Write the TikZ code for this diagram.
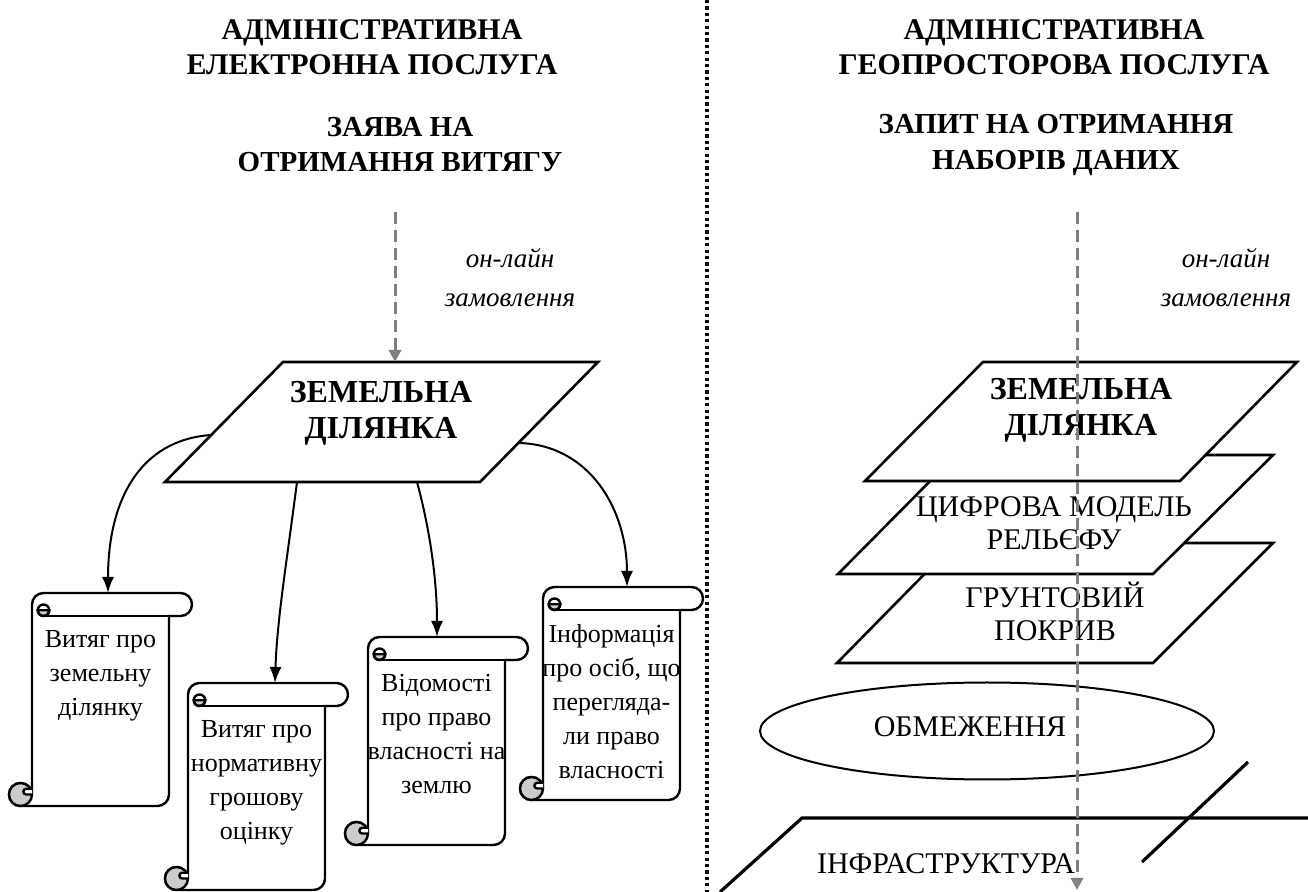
\documentclass[tikz,border=0pt]{standalone}
\usepackage{fontspec}
\setmainfont{Liberation Serif}[BoldFont={Liberation Serif Bold}, ItalicFont={Liberation Serif Italic}]
\usetikzlibrary{arrows.meta, shapes.geometric}

\definecolor{ordergray}{gray}{0.5}
\definecolor{curlgray}{gray}{0.8}

% vertical scroll: name, left x of body, top y, bottom y, entry x, text
\newcommand{\docscroll}[6]{%
  \draw[scrollline, fill=white] (#2,#4-11.5) -- (#2,#3+11.5) arc[start angle=180, end angle=270, radius=11.5]
    -- (#2+148.5,#3) arc[start angle=270, end angle=450, radius=11.5] -- (#2+137,#3+23)
    -- (#2+137,#4-11.5) arc[start angle=0, end angle=90, radius=11.5]
    -- (#2-11.5,#4) arc[start angle=90, end angle=360, radius=11.5] -- cycle;
  \draw[scrollline] (#2+137,#3+23) -- (#2+11.5,#3+23);
  \draw[scrollline, fill=curlgray] (#2+17.25,#3+17.25) arc[start angle=0, end angle=180, radius=5.75] -- cycle;
  \draw[scrollline] (#2+11.5,#3+17.25) circle (5.75);
  \draw[scrollline, fill=curlgray] (#2-11.5,#4-11.5) circle (11.5);
  \draw[scrollline, fill=white] (#2,#4-17.25) -- (#2-5.75,#4-17.25) arc[start angle=270, end angle=90, radius=2.875] -- (#2,#4-11.5);
  \coordinate (#1-top) at (#5,#3);
  \node[scrolltext] (#1) at (#2+68.5,#3+37) {#6};
}

\begin{document}
\begin{tikzpicture}[x=0.5pt, y=-0.5pt,
          headtext/.style={align=center, font=\fontsize{15}{17.5}\selectfont\bfseries},
          reqtext/.style={align=center, font=\fontsize{14.5}{17.5}\selectfont\bfseries},
          ordertext/.style={align=center, font=\fontsize{13.5}{19.5}\selectfont\itshape},
          plotline/.style={draw=black, line width=1.3pt, fill=white},
          plottext/.style={align=center, font=\fontsize{16}{18}\selectfont\bfseries},
          layertext/.style={align=center, font=\fontsize{15}{16.5}\selectfont},
          scrollline/.style={draw=black, line width=1.2pt},
          scrolltext/.style={align=center, anchor=north, inner sep=0pt, font=\fontsize{13}{17}\selectfont},
          docarrow/.style={-{Latex[length=8pt, width=6pt]}, line width=1pt},
          orderarrow/.style={-{Triangle[length=6pt, width=6pt]}, draw=ordergray, fill=ordergray, line width=1.5pt, dash pattern=on 6pt off 3pt}
        ]
        \useasboundingbox (0,0) rectangle (1308,892);

        % ----------------------------------------------------
        % DIVIDER
        % ----------------------------------------------------
        \draw[line width=1.6pt, dash pattern=on 1.6pt off 1.6pt] (707,0) -- (707,892);

        % ----------------------------------------------------
        % LEFT: ELECTRONIC SERVICE
        % ----------------------------------------------------
        \node[headtext] (lhead) at (372,47) {АДМІНІСТРАТИВНА\\ЕЛЕКТРОННА ПОСЛУГА};
        \node[reqtext] (lreq) at (400,145) {ЗАЯВА НА\\ОТРИМАННЯ ВИТЯГУ};
        \node[ordertext] (lorder) at (510,278) {он-лайн\\замовлення};

        \draw[plotline] (165,482) -- (480,482) -- (598,362) -- (283,362) -- cycle;
        \node[plottext] (plot) at (381,413) {ЗЕМЕЛЬНА\\ДІЛЯНКА};
        \coordinate (lstart) at (395,212);
        \coordinate (plot-n) at (395,362);
        \coordinate (plot-w) at (211,435);
        \coordinate (plot-s1) at (297,482);
        \coordinate (plot-s2) at (417,482);
        \coordinate (plot-e) at (519,443);

        \docscroll{s1}{32}{593}{806}{108}{Витяг про\\земельну\\ділянку}
        \docscroll{s2}{188}{683}{890}{275}{Витяг про\\нормативну\\грошову\\оцінку}
        \docscroll{s3}{368}{637}{845}{437}{Відомості\\про право\\власності на\\землю}
        \docscroll{s4}{543}{587}{800}{627}{Інформація\\про осіб, що\\перегляда-\\ли право\\власності}

        \draw[orderarrow] (lstart) -- (plot-n);
        \draw[docarrow] (plot-w) .. controls (140,440) and (108,500) .. (s1-top);
        \draw[docarrow] (plot-s1) .. controls (287,560) and (277,620) .. (s2-top);
        \draw[docarrow] (plot-s2) .. controls (430,530) and (437,580) .. (s3-top);
        \draw[docarrow] (plot-e) .. controls (590,445) and (627,510) .. (s4-top);

        % ----------------------------------------------------
        % RIGHT: GEOSPATIAL SERVICE
        % ----------------------------------------------------
        \node[headtext] (rhead) at (1054,47) {АДМІНІСТРАТИВНА\\ГЕОПРОСТОРОВА ПОСЛУГА};
        \node[reqtext] (rreq) at (1056,145) {ЗАПИТ НА ОТРИМАННЯ\\НАБОРІВ ДАНИХ};
        \node[ordertext] (rorder) at (1226,278) {он-лайн\\замовлення};

        \draw[plotline] (837,663) -- (1153,663) -- (1273,543) -- (955,543) -- cycle;
        \node[layertext] (soil) at (1055,611) {ГРУНТОВИЙ\\ПОКРИВ};
        \draw[plotline] (838,574) -- (1153,574) -- (1273,455) -- (956,455) -- cycle;
        \node[layertext] (relief) at (1054,523) {ЦИФРОВА МОДЕЛЬ\\РЕЛЬЄФУ};
        \draw[plotline] (865,481) -- (1180,481) -- (1297,362) -- (983,362) -- cycle;
        \node[plottext] (rplot) at (1081,410) {ЗЕМЕЛЬНА\\ДІЛЯНКА};

        \draw[line width=1pt] (987,731) ellipse [x radius=227, y radius=48.5];
        \node[layertext] (limits) at (970,727) {ОБМЕЖЕННЯ};

        \draw[line width=1.6pt] (720,892) -- (802,818) -- (1308,818);
        \draw[line width=1.6pt] (1142,862) -- (1248,762);
        \node[layertext] (infra) at (946,864) {ІНФРАСТРУКТУРА};

        \coordinate (rstart) at (1077,212);
        \coordinate (rend) at (1077,890);
        \draw[orderarrow] (rstart) -- (rend);
\end{tikzpicture}
\end{document}
